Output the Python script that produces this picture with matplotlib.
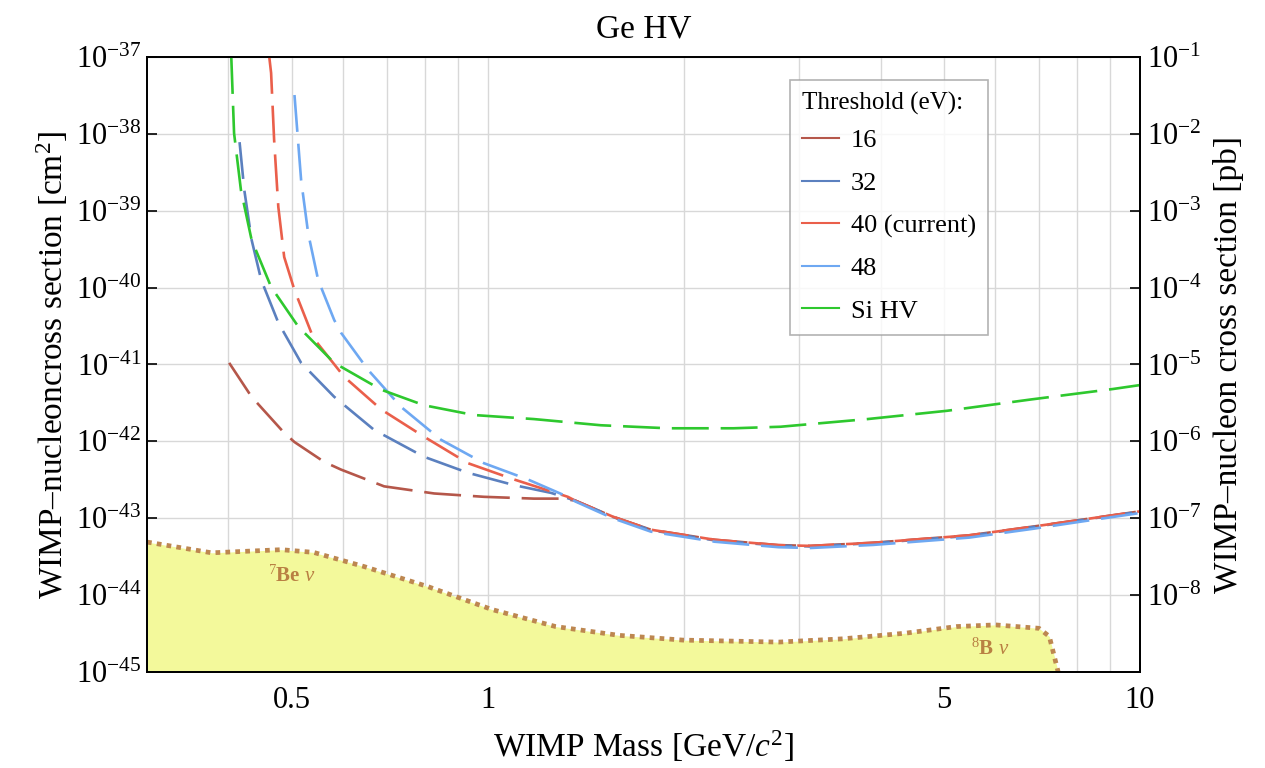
import matplotlib
matplotlib.use("Agg")
import matplotlib.pyplot as plt
from matplotlib.ticker import FixedLocator, LogFormatterMathtext, NullFormatter

plt.rcParams['font.family'] = ['Liberation Serif', 'DejaVu Serif']
plt.rcParams['mathtext.fontset'] = 'custom'
plt.rcParams['mathtext.rm'] = 'Liberation Serif'
plt.rcParams['mathtext.it'] = 'Liberation Serif:italic'
plt.rcParams['mathtext.bf'] = 'Liberation Serif:bold'

# WIMP mass [GeV/c^2] and cross-section limits [cm^2]
mass_16 = [0.401, 0.434, 0.487, 0.505, 0.561, 0.595, 0.693, 0.827, 0.986, 1.176, 1.29,
           1.36, 1.554, 1.777, 2.227, 2.79, 3.12, 3.90, 5.47, 6.86, 8.09, 10.0]
sigma_16 = [1.05e-41, 3.8e-42, 1.29e-42, 9.8e-43, 5.4e-43, 4.3e-43, 2.6e-43, 2.1e-43, 1.9e-43, 1.8e-43, 1.8e-43,
            1.7e-43, 1.05e-43, 7.1e-44, 5.25e-44, 4.47e-44, 4.37e-44, 4.8e-44, 6.0e-44, 7.8e-44, 9.5e-44, 1.23e-43]

mass_32 = [0.416, 0.423, 0.434, 0.449, 0.477, 0.517, 0.581, 0.669, 0.798, 0.932, 1.096, 1.249,
           1.36, 1.554, 1.777, 2.227, 2.79, 3.12, 3.90, 5.47, 6.86, 8.09, 10.0]
sigma_32 = [7.8e-39, 1.86e-39, 4.2e-40, 1.26e-40, 3.5e-41, 1.05e-41, 3.8e-42, 1.41e-42, 6.3e-43, 3.9e-43, 2.7e-43, 2.14e-43,
            1.7e-43, 1.04e-43, 7.0e-44, 5.15e-44, 4.4e-44, 4.3e-44, 4.75e-44, 5.9e-44, 7.7e-44, 9.4e-44, 1.22e-43]

mass_40 = [0.462, 0.465, 0.470, 0.477, 0.487, 0.505, 0.54, 0.602, 0.686, 0.798, 0.932, 1.096, 1.326,
           1.36, 1.554, 1.777, 2.227, 2.79, 3.12, 3.90, 5.47, 6.86, 8.09, 10.0]
sigma_40 = [1.0e-37, 6.2e-38, 8.3e-39, 1.12e-39, 2.5e-40, 9.3e-41, 2.2e-41, 6.9e-42, 2.6e-42, 1.15e-42, 5.2e-43, 3.2e-43, 1.9e-43,
            1.7e-43, 1.05e-43, 7.1e-44, 5.25e-44, 4.47e-44, 4.37e-44, 4.8e-44, 6.0e-44, 7.8e-44, 9.5e-44, 1.23e-43]

mass_48 = [0.505, 0.517, 0.530, 0.549, 0.581, 0.595, 0.655, 0.736, 0.847, 0.986, 1.151, 1.326,
           1.36, 1.554, 1.777, 2.227, 2.79, 3.12, 3.90, 5.47, 6.86, 8.09, 10.0]
sigma_48 = [3.2e-38, 2.5e-39, 5.1e-40, 1.26e-40, 3.8e-41, 2.6e-41, 8.5e-42, 2.8e-42, 1.05e-42, 5.2e-43, 3.2e-43, 1.9e-43,
            1.66e-43, 1.0e-43, 6.7e-44, 4.95e-44, 4.2e-44, 4.1e-44, 4.5e-44, 5.6e-44, 7.3e-44, 9.0e-44, 1.17e-43]

mass_si = [0.404, 0.408, 0.418, 0.434, 0.465, 0.512, 0.581, 0.686, 0.798, 0.952, 1.176, 1.49,
           1.887, 2.38, 2.81, 3.82, 5.06, 6.79, 9.09, 10.0]
sigma_si = [1.0e-37, 1.02e-38, 1.86e-39, 4.2e-40, 1.02e-40, 3.1e-41, 1.05e-41, 4.7e-42, 2.95e-42, 2.2e-42, 1.95e-42, 1.62e-42,
            1.48e-42, 1.48e-42, 1.55e-42, 1.95e-42, 2.5e-42, 3.5e-42, 4.8e-42, 5.4e-42]

# neutrino floor
mass_nu = [0.30, 0.377, 0.482, 0.54, 0.646, 0.809, 1.014, 1.27, 1.587, 1.99, 2.79, 3.50,
           4.37, 5.23, 6.0, 7.0, 7.26, 7.49, 7.55]
sigma_nu = [4.9e-44, 3.55e-44, 3.9e-44, 3.6e-44, 2.35e-44, 1.29e-44, 6.5e-45, 3.9e-45, 3.0e-45, 2.6e-45, 2.45e-45, 2.7e-45,
            3.2e-45, 3.9e-45, 4.1e-45, 3.7e-45, 2.9e-45, 1.0e-45, 5e-46]

series = [
    (mass_16, sigma_16, '16', '#b5574a'),
    (mass_32, sigma_32, '32', '#5b80bf'),
    (mass_40, sigma_40, '40 (current)', '#ea5f4b'),
    (mass_48, sigma_48, '48', '#6ea8f2'),
    (mass_si, sigma_si, 'Si HV', '#2ec82e'),
]

grid_x = [0.4, 0.6, 0.7, 0.8, 0.9, 2, 3, 4, 6, 7, 8, 9]

fig = plt.figure(figsize=(12.65, 7.68), dpi=100)
ax = fig.add_axes([0.1162, 0.125, 0.785, 0.8008])

# neutrino floor
ax.fill_between(mass_nu, sigma_nu, 1e-50, color='#f3f99b', lw=0, zorder=1)
ax.plot(mass_nu, sigma_nu, color='#bd8750', lw=3.4, linestyle=(0, (1, 1.1)), zorder=2)
ax.text(0.5, 1.75e-44, r'$^{7}$Be $\nu$', color='#b98043', fontsize=15, fontweight='bold',
        ha='center', va='center', zorder=3)
ax.text(5.9, 2.0e-45, r'$^{8}$B $\nu$', color='#b98043', fontsize=15, fontweight='bold',
        ha='center', va='center', zorder=3)

for m, s, lab, col in series:
    ax.plot(m, s, color=col, lw=1.9, dashes=(14, 4.5), label=lab, zorder=4)

ax.set_xscale('log')
ax.set_yscale('log')
ax.set_xlim(0.3, 10)
ax.set_ylim(1e-45, 1e-37)

ax.xaxis.set_major_locator(FixedLocator([0.5, 1, 5, 10]))
ax.set_xticklabels(['0.5', '1', '5', '10'])
ax.xaxis.set_minor_locator(FixedLocator(grid_x))
ax.xaxis.set_minor_formatter(NullFormatter())
ax.yaxis.set_major_locator(FixedLocator([10.0 ** e for e in range(-45, -36)]))
ax.yaxis.set_major_formatter(LogFormatterMathtext())
ax.yaxis.set_minor_locator(FixedLocator([]))

ax.grid(True, which='both', axis='x', color='#d8d8d8', lw=1.0, zorder=0)
ax.grid(True, which='major', axis='y', color='#d8d8d8', lw=1.0, zorder=0)
ax.set_axisbelow(True)

ax.tick_params(which='major', direction='in', length=7, width=1.2, labelsize=22, top=False, right=False, pad=4)
ax.tick_params(axis='x', which='major', labelsize=22, pad=10)
ax.tick_params(which='minor', length=0)
for sp in ax.spines.values():
    sp.set_linewidth(1.3)

ax.set_xlabel(r'WIMP Mass [GeV/$c^{2}$]', fontsize=24, labelpad=10)
ax.set_ylabel(r'WIMP–nucleoncross section [cm$^{2}$]', fontsize=24, labelpad=4)
ax.set_title('Ge HV', fontsize=24, pad=14)

ax2 = ax.twinx()
ax2.set_yscale('log')
ax2.set_ylim(1e-9, 1e-1)
ax2.yaxis.set_major_locator(FixedLocator([10.0 ** e for e in range(-8, 0)]))
ax2.yaxis.set_major_formatter(LogFormatterMathtext())
ax2.yaxis.set_minor_locator(FixedLocator([]))
ax2.tick_params(direction='in', length=7, width=1.2, labelsize=22, pad=5)
ax2.set_ylabel('WIMP–nucleon cross section [pb]', fontsize=24, labelpad=8)
for sp in ax2.spines.values():
    sp.set_linewidth(1.3)

leg = ax.legend(title='Threshold (eV):', loc='upper left', bbox_to_anchor=(0.6475, 0.9626),
                borderaxespad=0, fontsize=19, title_fontsize=18, frameon=True, fancybox=False,
                edgecolor='#a0a0a0', handlelength=1.4, handletextpad=0.45, labelspacing=0.72,
                borderpad=0.45)
leg.get_frame().set_linewidth(1.2)
leg._legend_box.align = 'left'
leg._legend_box.sep = 10
for ln in leg.get_lines():
    ln.set_linestyle('-')
    ln.set_linewidth(1.5)

fig.savefig('out.png', dpi=100)
